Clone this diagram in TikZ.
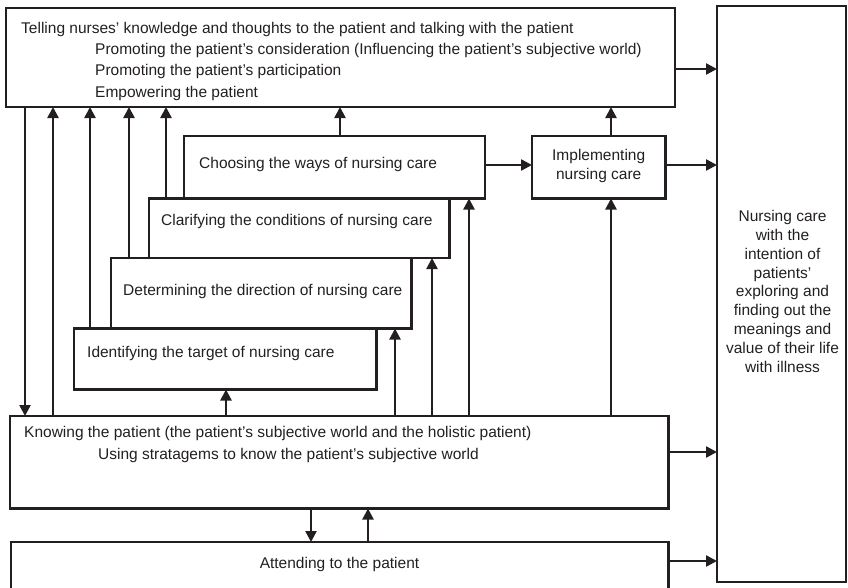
\documentclass[tikz,border=0pt]{standalone}
\usepackage{fontspec}
\setmainfont{Liberation Sans}
\usetikzlibrary{arrows.meta}
\definecolor{ink}{RGB}{35,31,32}
\begin{document}
\begin{tikzpicture}[x=1pt,y=-1pt,
  box/.style={draw=ink, line width=2.4pt, inner sep=0pt, outer sep=0pt, anchor=north west},
  txt/.style={inner sep=0pt, text=ink, font=\fontsize{15.5}{18}\selectfont},
  arr/.style={draw=ink, line width=2.4pt, -{Triangle[length=11pt,width=11pt]}}]
\useasboundingbox (0,0) rectangle (848,587);
\clip (0,0) rectangle (848,587);

% boxes
\node[box, minimum width=669pt,   minimum height=99pt]   (T)  at (6,8) {};
\node[box, minimum width=129pt,   minimum height=576pt]  (R)  at (717,6) {};
\node[box, minimum width=133.5pt, minimum height=62.5pt] (I)  at (532,136) {};
\node[box, minimum width=301pt,   minimum height=62.5pt] (C)  at (184,136) {};
\node[box, minimum width=300.5pt, minimum height=59.5pt] (Cl) at (149,198.5) {};
\node[box, minimum width=300.5pt, minimum height=70.5pt] (D)  at (111,258) {};
\node[box, minimum width=302.5pt, minimum height=61pt]   (Id) at (74,328.5) {};
\node[box, minimum width=658.5pt, minimum height=92.5pt] (K)  at (10,416) {};
\node[box, minimum width=657.5pt, minimum height=78pt]   (A)  at (11,542) {};

% texts
\node[txt, anchor=base west] (t1) at (21,33.3) {Telling nurses’ knowledge and thoughts to the patient and talking with the patient};
\node[txt, anchor=base west] (t2) at (95,54.3) {Promoting the patient’s consideration (Influencing the patient’s subjective world)};
\node[txt, anchor=base west] (t3) at (95,75.5) {Promoting the patient’s participation};
\node[txt, anchor=base west] (t4) at (95,97.3) {Empowering the patient};
\node[txt, anchor=base west] (ct) at (199,168.3) {Choosing the ways of nursing care};
\node[txt, anchor=base west] (clt) at (161,225.5) {Clarifying the conditions of nursing care};
\node[txt, anchor=base west] (dt) at (123,295.5) {Determining the direction of nursing care};
\node[txt, anchor=base west] (idt) at (87,357.5) {Identifying the target of nursing care};
\node[txt, anchor=base west] (k1) at (24,437.5) {Knowing the patient (the patient’s subjective world and the holistic patient)};
\node[txt, anchor=base west] (k2) at (98,459.5) {Using stratagems to know the patient’s subjective world};
\node[txt, anchor=base] (at) at (339.5,568) {Attending to the patient};
\node[txt, anchor=base] (i1) at (598.7,160.7) {Implementing};
\node[txt, anchor=base] (i2) at (598.7,179.3) {nursing care};
\foreach \s [count=\n] in {Nursing care,with the,intention of,patients’,exploring and,finding out the,meanings and,value of their life,with illness}
  \node[txt, anchor=base] (r\n) at (782.5,{221.7+(\n-1)*18.8}) {\s};

% vertical connectors into the top box
\draw[arr] (T.south -| 25,0) -- (K.north -| 25,0);
\draw[arr] (K.north -| 53,0) -- (T.south -| 53,0);
\draw[arr] (Id.north -| 90,0) -- (T.south -| 90,0);
\draw[arr] (D.north -| 129,0) -- (T.south -| 129,0);
\draw[arr] (Cl.north -| 166,0) -- (T.south -| 166,0);
\draw[arr] (C.north -| 340,0) -- (T.south -| 340,0);
\draw[arr] (I.north -| 611,0) -- (T.south -| 611,0);

% connectors rising from the knowing box
\draw[arr] (K.north -| 226,0) -- (Id.south -| 226,0);
\draw[arr] (K.north -| 395,0) -- (D.south -| 395,0);
\draw[arr] (K.north -| 432,0) -- (Cl.south -| 432,0);
\draw[arr] (K.north -| 469,0) -- (C.south -| 469,0);
\draw[arr] (K.north -| 611,0) -- (I.south -| 611,0);

% between knowing and attending
\draw[arr] (K.south -| 311,0) -- (A.north -| 311,0);
\draw[arr] (A.north -| 368,0) -- (K.south -| 368,0);

% horizontal connectors
\draw[arr] (C.east |- 0,165) -- (I.west |- 0,165);
\draw[arr] (T.east |- 0,69) -- (R.west |- 0,69);
\draw[arr] (I.east |- 0,165) -- (R.west |- 0,165);
\draw[arr] (K.east |- 0,452) -- (R.west |- 0,452);
\draw[arr] (A.east |- 0,561) -- (R.west |- 0,561);
\end{tikzpicture}
\end{document}
